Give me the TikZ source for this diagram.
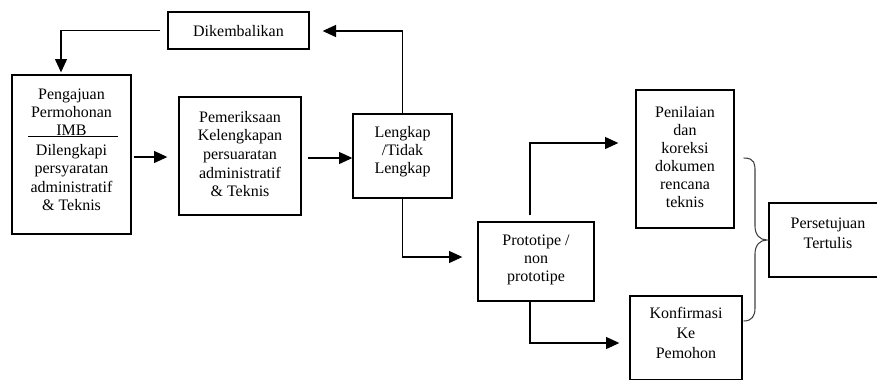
\documentclass[tikz,border=0pt]{standalone}
\usepackage{fontspec}
\setmainfont{Liberation Serif}
\usetikzlibrary{arrows.meta,calc}
\tikzset{
  box/.style 2 args={draw=black, line width=1pt, minimum width=#1*0.75pt, minimum height=#2*0.75pt, inner sep=0pt},
  txt/.style={align=center, inner sep=0pt, font=\fontsize{12pt}{13.5pt}\selectfont},
  conn/.style={-{Triangle[length=10pt,width=9pt]}, line width=1pt},
  brace/.style={line width=0.8pt, draw=black!75},
}
\begin{document}
\begin{tikzpicture}[x=0.75pt,y=-0.75pt]
\useasboundingbox (0,0) rectangle (877,379);
% boxes
\node[box={141}{37}] (dik) at (238.5,30.5) {};
\node[box={119}{159}] (peng) at (71.5,154.5) {};
\node[box={122}{118}] (pem) at (240,156) {};
\node[box={99}{84}] (leng) at (402.5,156) {};
\node[box={116}{79}] (proto) at (536,261.5) {};
\node[box={98}{138}] (pen) at (685,159) {};
\node[box={112}{84}] (konf) at (686,338) {};
\node[box={118}{74}] (pers) at (828,240) {};
% texts
\node[txt] (dikt) at (238.5,31) {Dikembalikan};
\node[txt] (pengt1) at (71.5,112.5) {Pengajuan\\Permohonan\\IMB};
\node[txt,font=\fontsize{12pt}{13.7pt}\selectfont] (pengt2) at (71.5,177.5) {Dilengkapi\\persyaratan\\administratif\\\&~Teknis};
\node[txt,font=\fontsize{12pt}{13.9pt}\selectfont] (pemt) at (240,154) {Pemeriksaan\\Kelengkapan\\persuaratan\\administratif\\\&~Teknis};
\node[txt] (lengt) at (402.5,151.5) {Lengkap\\/Tidak\\Lengkap};
\node[txt] (protot) at (536,259.5) {Prototipe /\\non\\prototipe};
\node[txt] (pent) at (685,157) {Penilaian\\dan\\koreksi\\dokumen\\rencana\\teknis};
\node[txt,font=\fontsize{12pt}{15pt}\selectfont] (konft) at (686,333) {Konfirmasi\\Ke\\Pemohon};
\node[txt,font=\fontsize{12pt}{15pt}\selectfont] (perst) at (828,233) {Persetujuan\\Tertulis};
% divider in first box
\draw[line width=1pt] ($(peng.north west)+(17,62)$) -- ($(peng.north west)+(107,62)$);
% connectors
\draw[conn] (leng.north) |- ($(dik.east)+(13,0.5)$);
\draw[conn] ($(dik.west)+(-7,0)$) -| ($(peng.north)+(-10.5,-2)$);
\draw[conn] ($(peng.east)+(2,2.5)$) -- ($(pem.west)+(-11,1)$);
\draw[conn] ($(pem.east)+(6,2)$) -- ($(leng.west)+(0,2)$);
\draw[conn] (leng.south) |- ($(proto.west)+(-15,-4.5)$);
\draw[conn] ($(proto.north)+(-6,-6)$) |- ($(pen.west)+(-17,-16)$);
\draw[conn] ($(proto.south)+(-6,0)$) |- ($(konf.west)+(-10,5)$);
% brace
\draw[brace] ($(pen.east)+(9,-1)$) .. controls (755,158) and (755,164) .. (755,172)
  -- (755,226) .. controls (755,235) and (760,240) .. (767,240)
  .. controls (760,240) and (755,245) .. (755,254)
  -- (755,308) .. controls (755,316) and (752,321) .. ($(konf.east)+(1,-17)$);
\end{tikzpicture}
\end{document}
